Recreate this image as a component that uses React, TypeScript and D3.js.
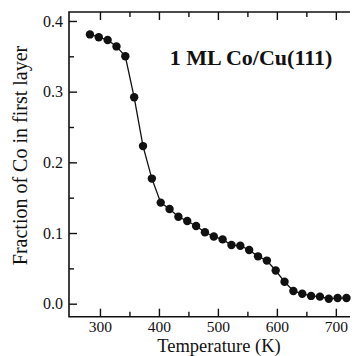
import React, { useEffect, useRef } from 'react';
import * as d3 from 'd3';

// Data (temperature in K, fraction of Co in first layer)
const temperatures = [283, 298, 313, 328, 343, 358, 373, 388, 403, 418, 433, 448, 463, 478, 493,
  508, 523, 538, 553, 568, 583, 598, 613, 628, 643, 658, 673, 688, 703, 718];
const fractions = [0.381, 0.377, 0.373, 0.364, 0.350, 0.292, 0.223, 0.177, 0.143, 0.134, 0.123,
  0.117, 0.110, 0.101, 0.095, 0.091, 0.083, 0.082, 0.076, 0.067, 0.061, 0.047, 0.031, 0.018,
  0.014, 0.011, 0.010, 0.007, 0.008, 0.008];

const xMajorTicks = [300, 400, 500, 600, 700];
const xMinorTicks = [350, 450, 550, 650];
const yMajorTicks = [0.0, 0.1, 0.2, 0.3, 0.4];
const yMinorTicks = [0.05, 0.15, 0.25, 0.35];

const chartTitle = '1 ML Co/Cu(111)';
const xTitle = 'Temperature (K)';
const yTitle = 'Fraction of Co in first layer';

const FONT = '"Liberation Serif", "Times New Roman", serif';

const App = () => {
  const svgRef = useRef(null);

  useEffect(() => {
    const W = 355, H = 356;
    const left = 69, right = 350, top = 12, bottom = 316.7;

    const svg = d3.select(svgRef.current);
    svg.selectAll('*').remove();

    const x = d3.scaleLinear().domain([247.5, 724]).range([left, right]);
    const y = d3.scaleLinear().domain([-0.0184, 0.4127]).range([bottom, top]);

    // 1. Axes (ticks point inward)
    const styleAxis = (g, size = '16px') => {
      g.selectAll('line').attr('stroke', '#111').attr('stroke-width', 1.4);
      g.selectAll('text').attr('fill', '#111').style('font-family', FONT).style('font-size', size);
      g.select('.domain').remove();
    };

    svg.append('g')
      .attr('transform', `translate(0,${bottom})`)
      .call(d3.axisBottom(x).tickValues(xMajorTicks).tickSize(-8).tickPadding(4).tickFormat(d3.format('d')))
      .call(g => styleAxis(g, '15.5px'));
    svg.append('g')
      .attr('transform', `translate(0,${bottom})`)
      .call(d3.axisBottom(x).tickValues(xMinorTicks).tickSize(-5).tickFormat(() => ''))
      .call(styleAxis);
    svg.append('g')
      .attr('transform', `translate(0,${top})`)
      .call(d3.axisTop(x).tickValues(xMajorTicks).tickSize(-8).tickFormat(() => ''))
      .call(styleAxis);
    svg.append('g')
      .attr('transform', `translate(0,${top})`)
      .call(d3.axisTop(x).tickValues(xMinorTicks).tickSize(-5).tickFormat(() => ''))
      .call(styleAxis);
    svg.append('g')
      .attr('transform', `translate(${left},0)`)
      .call(d3.axisLeft(y).tickValues(yMajorTicks).tickSize(-8).tickPadding(6).tickFormat(d3.format('.1f')))
      .call(styleAxis);
    svg.append('g')
      .attr('transform', `translate(${left},0)`)
      .call(d3.axisLeft(y).tickValues(yMinorTicks).tickSize(-5).tickFormat(() => ''))
      .call(styleAxis);

    // frame: left, bottom, top (right side is cut off in the original)
    svg.append('path')
      .attr('d', `M${right},${top}H${left}V${bottom}H${right}`)
      .attr('fill', 'none')
      .attr('stroke', '#111')
      .attr('stroke-width', 1.6);

    // 2. Data line + markers
    const pts = temperatures.map((t, i) => [t, fractions[i]]);
    svg.append('path')
      .datum(pts)
      .attr('d', d3.line().x(d => x(d[0])).y(d => y(d[1])))
      .attr('fill', 'none')
      .attr('stroke', '#111')
      .attr('stroke-width', 1.3);

    svg.append('g')
      .selectAll('circle')
      .data(pts)
      .join('circle')
      .attr('cx', d => x(d[0]))
      .attr('cy', d => y(d[1]))
      .attr('r', 4.2)
      .attr('fill', '#111');

    // 3. Labels
    svg.append('text')
      .attr('x', 251)
      .attr('y', 65)
      .attr('text-anchor', 'middle')
      .style('font-family', FONT)
      .style('font-size', '22px')
      .style('font-weight', 'bold')
      .attr('fill', '#111')
      .text(chartTitle);

    svg.append('text')
      .attr('x', 219)
      .attr('y', 351.5)
      .attr('text-anchor', 'middle')
      .style('font-family', FONT)
      .style('font-size', '18.5px')
      .attr('fill', '#111')
      .text(xTitle);

    svg.append('text')
      .attr('transform', `translate(27,155.5) rotate(-90)`)
      .attr('text-anchor', 'middle')
      .style('font-family', FONT)
      .style('font-size', '20px')
      .attr('fill', '#111')
      .text(yTitle);

    svg.attr('width', W).attr('height', H);
  }, []);

  return (
    <svg
      ref={svgRef}
      width={355}
      height={356}
      style={{ position: 'absolute', left: 0, top: 0, background: '#fff' }}
    />
  );
};

export default App;
